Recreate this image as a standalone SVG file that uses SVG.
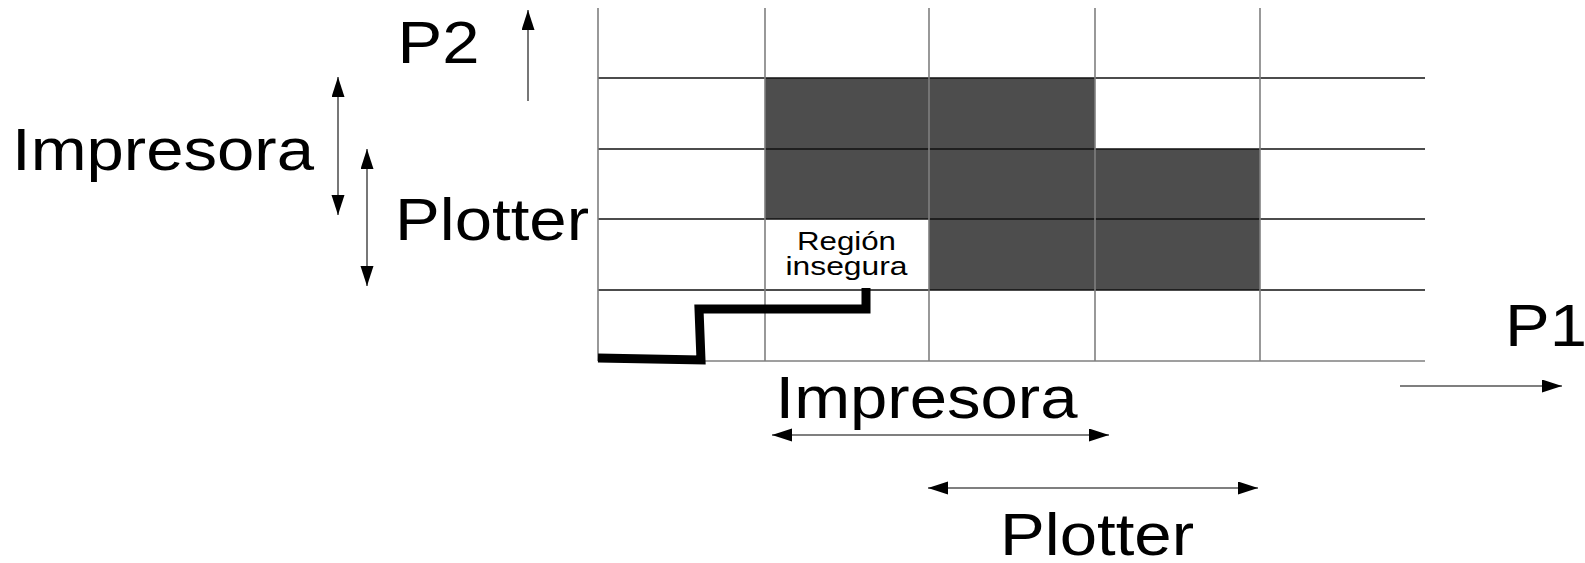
<svg xmlns="http://www.w3.org/2000/svg" width="1585" height="563" viewBox="0 0 1585 563">
  <style>
    .lbl { font-family: "Liberation Sans", Arial, sans-serif; font-size: 59px; fill: #000; }
    .small { font-family: "Liberation Sans", Arial, sans-serif; font-size: 26px; fill: #000; }
    .cell { fill: #4d4d4d; }
    .vline { stroke: #7f7f7f; stroke-width: 1.6; fill: none; }
    .hline { stroke: #111; stroke-width: 1.4; fill: none; }
    .bline { stroke: #7f7f7f; stroke-width: 1.6; fill: none; }
    .arr { stroke: #555; stroke-width: 1.6; fill: none; }
  </style>
  <defs>
    <marker id="ah" markerUnits="userSpaceOnUse" markerWidth="22" markerHeight="14" refX="20" refY="6.5" orient="auto-start-reverse" viewBox="0 0 22 14">
      <path d="M0,0 L20,6.5 L0,13 z" fill="#000"/>
    </marker>
  </defs>
  <rect width="1585" height="563" fill="#fff"/>

  <g id="grid">
    <rect class="cell" x="765" y="78" width="330" height="71"/>
    <rect class="cell" x="765" y="149" width="495" height="70"/>
    <rect class="cell" x="929" y="219" width="331" height="71"/>
    <line class="hline" x1="598" y1="78" x2="1425" y2="78"/>
    <line class="hline" x1="598" y1="149" x2="1425" y2="149"/>
    <line class="hline" x1="598" y1="219" x2="1425" y2="219"/>
    <line class="hline" x1="598" y1="290" x2="1425" y2="290"/>
    <line class="bline" x1="598" y1="361" x2="1425" y2="361"/>
    <line class="vline" x1="598" y1="8" x2="598" y2="361"/>
    <line class="vline" x1="765" y1="8" x2="765" y2="361"/>
    <line class="vline" x1="929" y1="8" x2="929" y2="361"/>
    <line class="vline" x1="1095" y1="8" x2="1095" y2="361"/>
    <line class="vline" x1="1260" y1="8" x2="1260" y2="361"/>
  </g>

  <g id="region-insegura">
    <text class="small" x="846.5" y="250" text-anchor="middle" textLength="99" lengthAdjust="spacingAndGlyphs">Región</text>
    <text class="small" x="846.5" y="275" text-anchor="middle" textLength="122" lengthAdjust="spacingAndGlyphs">insegura</text>
  </g>

  <g id="path-trajectory">
    <path d="M598,358 L701,360 L699,309 L866,309 L866,288" fill="none" stroke="#000" stroke-width="9" stroke-linejoin="miter" stroke-linecap="butt"/>
  </g>

  <g id="label-p2">
    <text class="lbl" x="397.5" y="63" textLength="82" lengthAdjust="spacingAndGlyphs">P2</text>
  </g>
  <g id="label-p1">
    <text class="lbl" x="1505" y="346" textLength="82" lengthAdjust="spacingAndGlyphs">P1</text>
  </g>
  <g id="label-impresora-left">
    <text class="lbl" x="12" y="170" textLength="302" lengthAdjust="spacingAndGlyphs">Impresora</text>
  </g>
  <g id="label-plotter-left">
    <text class="lbl" x="395" y="240" textLength="194" lengthAdjust="spacingAndGlyphs">Plotter</text>
  </g>
  <g id="label-impresora-bottom">
    <text class="lbl" x="775.5" y="418" textLength="302" lengthAdjust="spacingAndGlyphs">Impresora</text>
  </g>
  <g id="label-plotter-bottom">
    <text class="lbl" x="1000" y="555" textLength="194" lengthAdjust="spacingAndGlyphs">Plotter</text>
  </g>

  <g id="connectors">
    <line class="arr" x1="528" y1="101" x2="528" y2="10" marker-end="url(#ah)"/>
    <line class="arr" x1="1400" y1="386" x2="1562" y2="386" marker-end="url(#ah)"/>
    <line class="arr" x1="338" y1="77" x2="338" y2="215" marker-start="url(#ah)" marker-end="url(#ah)"/>
    <line class="arr" x1="367" y1="149" x2="367" y2="286" marker-start="url(#ah)" marker-end="url(#ah)"/>
    <line class="arr" x1="772" y1="435" x2="1109" y2="435" marker-start="url(#ah)" marker-end="url(#ah)"/>
    <line class="arr" x1="928" y1="488" x2="1258" y2="488" marker-start="url(#ah)" marker-end="url(#ah)"/>
  </g>
</svg>
